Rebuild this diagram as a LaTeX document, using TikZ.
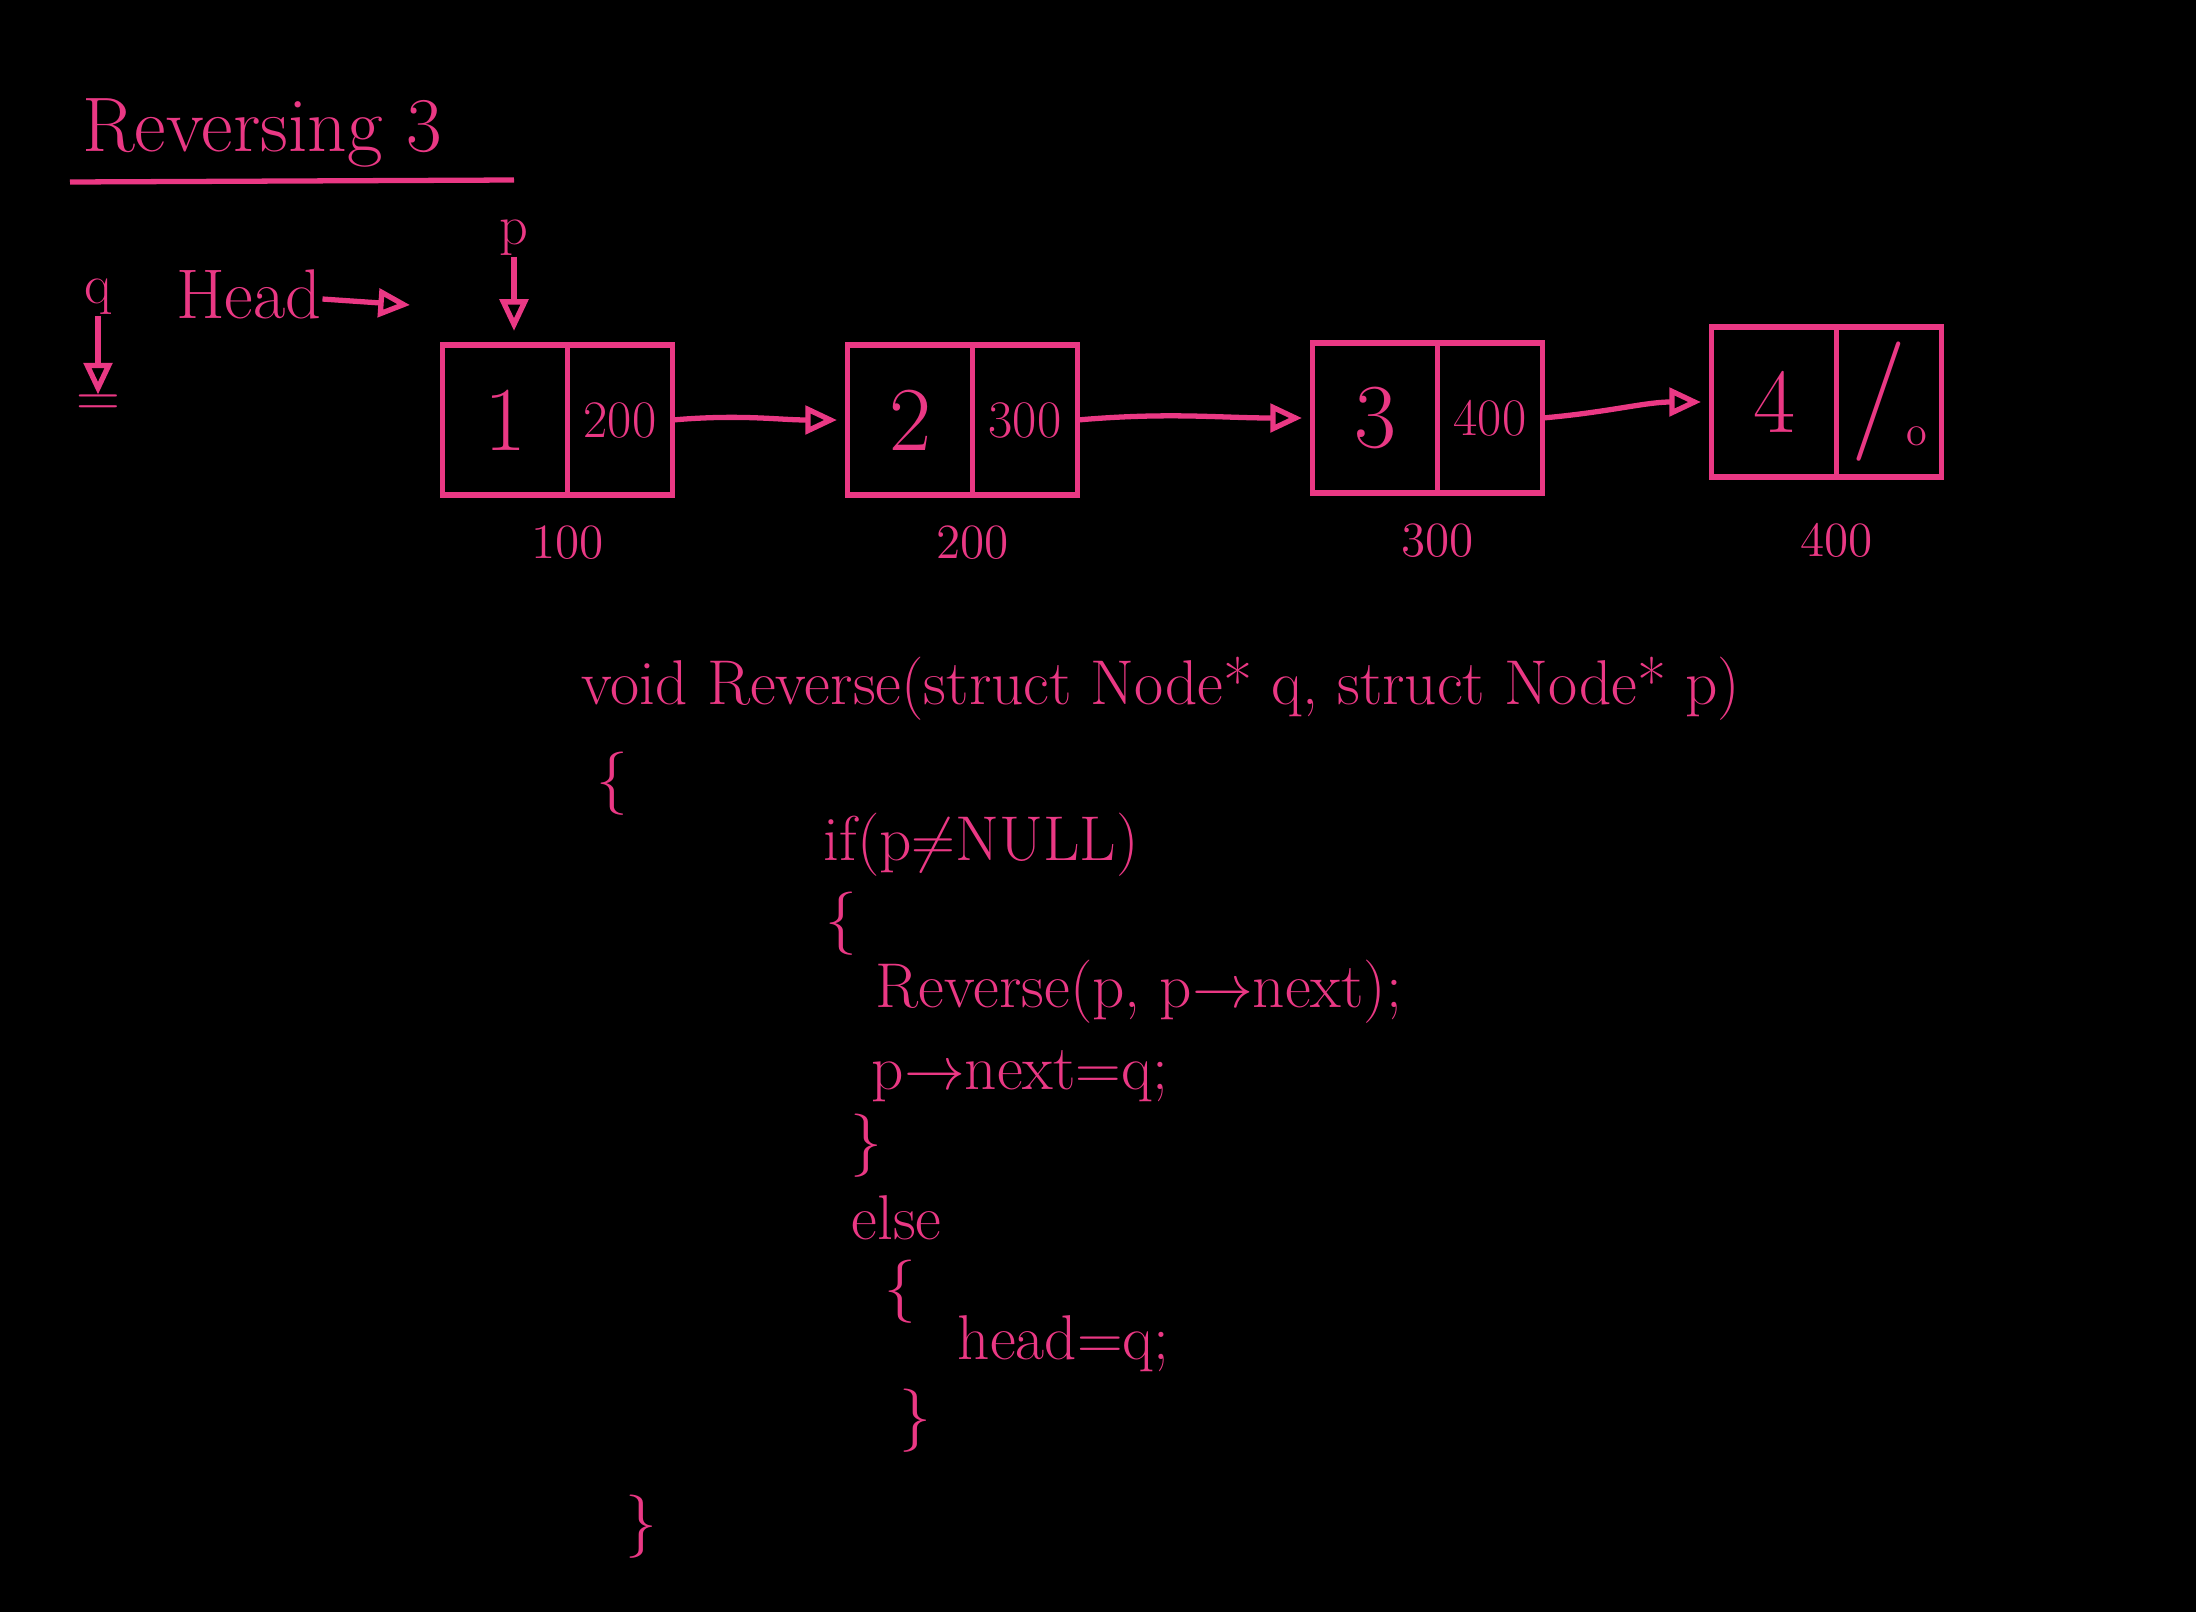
\documentclass[tikz,border=0pt]{standalone}
\usepackage{amsmath}
\usepackage{amssymb}
\usetikzlibrary{arrows.meta,positioning}
\definecolor{pen}{RGB}{234,56,132}

\begin{document}
\begin{tikzpicture}[x=0.01cm,y=-0.01cm]
    \tikzstyle{every node}+=[inner sep=0pt, text=pen]
    \tikzstyle{cell}=[draw=pen, line width=1.5pt, outer sep=0pt, minimum height=1.5cm]
    \tikzstyle{datacell}=[cell, minimum width=1.25cm, font=\fontsize{26}{30}\selectfont]
    \tikzstyle{linkcell}=[cell, minimum width=1.05cm, font=\fontsize{15}{18}\selectfont]
    \tikzstyle{addr}=[font=\fontsize{14}{16}\selectfont]
    \tikzstyle{code}=[anchor=west, font=\fontsize{18}{21}\selectfont]
    \tikzstyle{ptr}=[draw=pen, line width=1.5pt, -{Triangle[open,length=9pt,width=8pt]}]
    \fill [black] (0,0) rectangle (2196,1612);
    \useasboundingbox (0,0) rectangle (2196,1612);
    % title
    \node [font=\fontsize{22}{26}\selectfont] (title) at (262,133) {Reversing 3};
    \draw [pen, line width=1.5pt] (70,182) -- (514,180);
    % pointers
    \node [font=\fontsize{16}{18}\selectfont] (q) at (98,297) {q};
    \node [font=\fontsize{18}{18}\selectfont] (qnull) at (98,406) {$=$};
    \draw [ptr] (q) -- (qnull);
    \node [font=\fontsize{20}{24}\selectfont] (head) at (249,294) {Head};
    \coordinate (hend) at (410,305);
    \draw [ptr] (head) -- (hend);
    \node [font=\fontsize{16}{18}\selectfont] (p) at (514,238) {p};
    % list
    \node [datacell] (d1) at (505,420) {1};
    \node [linkcell, anchor=west] (l1) at (d1.east) {200};
    \node [datacell] (d2) at (910,420) {2};
    \node [linkcell, anchor=west] (l2) at (d2.east) {300};
    \node [datacell] (d3) at (1375,418) {3};
    \node [linkcell, anchor=west] (l3) at (d3.east) {400};
    \node [datacell] (d4) at (1774,402) {4};
    \node [linkcell, anchor=west] (l4) at (d4.east) {{\fontsize{34}{34}\selectfont/}\raisebox{-4pt}{\fontsize{12}{12}\selectfont o}};
    \draw [ptr, shorten >=4pt] (p) -- (p |- d1.north);
    \draw [ptr, shorten >=3pt] (l1.east) to [out=5,in=180] (d2.west);
    \draw [ptr, shorten >=3pt] (l2.east) to [out=5,in=180] (d3.west);
    \draw [ptr, shorten >=3pt] (l3.east) to [out=5,in=180] (d4.west);
    \node [addr, below=0.3cm of d1.south east] (a1) {100};
    \node [addr, below=0.3cm of d2.south east] (a2) {200};
    \node [addr, below=0.3cm of d3.south east] (a3) {300};
    \node [addr, below=0.45cm of d4.south east] (a4) {400};
    % code
    \node [code] (sig) at (581,689) {void Reverse(struct Node* q, struct Node* p)};
    \node [code] (ob1) at (596,784) {\{};
    \node [code] (iff) at (823,845) {if(p$\neq$NULL)};
    \node [code] (ob2) at (825,924) {\{};
    \node [code] (rec) at (875,992) {Reverse(p, p$\to$next);};
    \node [code] (asg) at (871,1076) {p$\to$next=q;};
    \node [code] (cb2) at (850,1146) {\}};
    \node [code] (els) at (851,1218) {else};
    \node [code] (ob3) at (884,1292) {\{};
    \node [code] (hd) at (957,1344) {head=q;};
    \node [code] (cb3) at (899,1421) {\}};
    \node [code] (cb1) at (625,1527) {\}};
\end{tikzpicture}
\end{document}
